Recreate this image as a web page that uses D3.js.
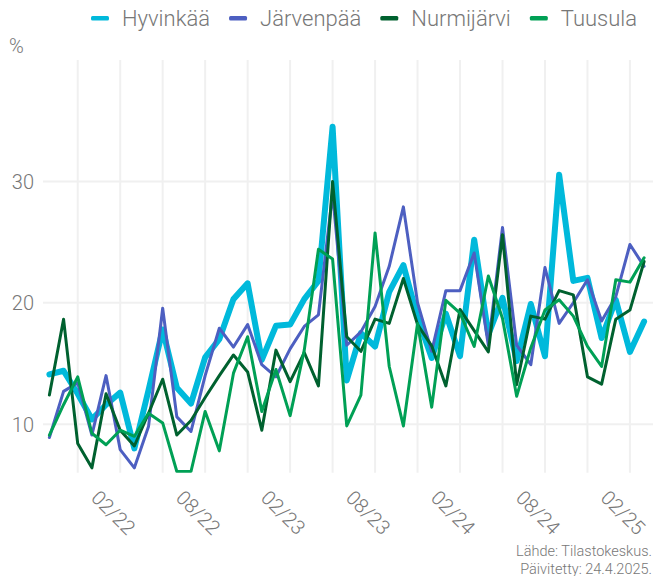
<!DOCTYPE html>
<html>
<head>
<meta charset="utf-8">
<script src="https://cdn.jsdelivr.net/npm/d3@7"></script>
<style>
  html, body { margin: 0; padding: 0; background: #fff; }
  svg { display: block; font-family: Roboto, "Open Sans", sans-serif; }
</style>
</head>
<body>
<svg id="chart" width="653" height="576"></svg>
<script>
// ---- data ----
const categories = (() => {
  const out = [];
  let y = 2021, m = 11;
  for (let i = 0; i < 43; i++) {
    out.push(String(m).padStart(2, "0") + "/" + String(y).slice(2));
    m++; if (m > 12) { m = 1; y++; }
  }
  return out;
})();
const seriesNames = ["Hyvinkää", "Järvenpää", "Nurmijärvi", "Tuusula"];
const hyvinkaa = [14.1,14.4,12.5,10.4,11.6,12.6,8.0,12.8,17.8,13.0,11.7,15.5,17.0,20.3,21.6,15.3,18.1,18.2,20.3,21.8,34.5,13.6,17.5,16.4,20.9,23.1,18.8,15.45,19.1,15.6,25.2,17.4,20.4,15.2,19.9,15.6,30.55,21.8,22.05,17.1,20.25,15.95,18.45];
const jarvenpaa = [8.9,12.7,13.4,9.1,14.0,7.9,6.4,9.8,19.55,10.6,9.4,14.0,17.9,16.35,18.2,14.9,13.9,16.2,18.05,19.0,29.0,16.5,17.6,19.7,23.0,27.9,20.0,16.0,21.0,21.0,24.1,16.5,26.2,16.5,14.9,22.9,18.3,20.0,21.9,18.5,20.5,24.8,23.0];
const nurmijarvi = [12.4,18.65,8.4,6.4,12.5,9.5,8.2,10.9,13.7,9.1,10.3,12.2,14.0,15.7,14.3,9.5,16.1,13.5,15.9,13.15,30.0,17.2,16.0,18.65,18.3,22.0,18.2,16.45,13.15,19.45,17.7,15.95,25.6,13.25,18.9,18.65,21.0,20.65,13.9,13.3,18.65,19.4,23.4];
const tuusula = [9.1,11.6,13.9,9.25,8.3,9.5,9.0,10.9,10.1,6.1,6.1,11.05,7.8,14.2,17.2,11.05,14.5,10.7,16.1,24.4,23.6,9.85,12.4,25.75,14.75,9.85,18.3,11.4,20.2,19.15,16.4,22.2,18.7,12.3,16.3,19.4,20.25,18.9,16.4,14.75,21.9,21.7,23.7];
const yTicks = [10, 20, 30];
const xTickLabels = ["02/22", "08/22", "02/23", "08/23", "02/24", "08/24", "02/25"];
const gridMonths = ["01", "04", "07", "10"];
const colors = ["#00b9db", "#4d5fc1", "#00612f", "#00a055"];
const widths = [6, 3, 3, 3];
const allSeries = [hyvinkaa, jarvenpaa, nurmijarvi, tuusula];

// ---- layout ----
const plot = { left: 43, right: 653, top: 60, bottom: 472.7 };
const svg = d3.select("#chart");
const textColor = "#777777";

const x = d3.scalePoint().domain(categories).range([49.4, 644.1]);
const y = d3.scaleLinear().domain([6, 40]).range([plot.bottom, plot.top]);

// gridlines
const grid = svg.append("g");
grid.selectAll("line.h").data(yTicks).join("line")
  .attr("x1", plot.left).attr("x2", plot.right)
  .attr("y1", d => y(d)).attr("y2", d => y(d))
  .attr("stroke", "#f0f0f0").attr("stroke-width", 2);
grid.selectAll("line.v").data(categories.filter(c => gridMonths.includes(c.slice(0, 2)))).join("line")
  .attr("x1", d => x(d)).attr("x2", d => x(d))
  .attr("y1", plot.top).attr("y2", plot.bottom)
  .attr("stroke", "#f0f0f0").attr("stroke-width", 2);

// y axis labels
const yAxis = d3.axisLeft(y).tickValues(yTicks).tickSize(0).tickPadding(0);
const yg = svg.append("g").attr("transform", "translate(34,0)").call(yAxis);
yg.select(".domain").remove();
yg.selectAll("text").attr("fill", textColor).attr("font-size", 20).attr("font-weight", 300)
  .attr("font-family", "Roboto, sans-serif").attr("dy", "0.35em");

// x axis labels
const xAxis = d3.axisBottom(x).tickValues(xTickLabels).tickSize(0).tickPadding(0);
const xg = svg.append("g").call(xAxis);
xg.select(".domain").remove();
xg.selectAll(".tick").attr("transform", d => `translate(${x(d) - 2},499)`);
xg.selectAll("text").attr("fill", textColor).attr("font-size", 20).attr("font-weight", 300)
  .attr("font-family", "Roboto, sans-serif")
  .attr("y", 0).attr("dy", 0).attr("text-anchor", "start")
  .attr("transform", "rotate(45)");

// clip
svg.append("clipPath").attr("id", "clip").append("rect")
  .attr("x", plot.left).attr("y", plot.top - 10)
  .attr("width", plot.right - plot.left).attr("height", plot.bottom - plot.top + 10);

const line = d3.line().x((d, i) => x(categories[i])).y(d => y(d));
const lines = svg.append("g").attr("clip-path", "url(#clip)");
allSeries.forEach((s, k) => {
  lines.append("path").datum(s)
    .attr("d", line)
    .attr("fill", "none")
    .attr("stroke", colors[k])
    .attr("stroke-width", widths[k])
    .attr("stroke-linejoin", "round")
    .attr("stroke-linecap", "round");
});

// "%" unit label
svg.append("text").attr("x", 9).attr("y", 53).text("%")
  .attr("fill", textColor).attr("font-size", 20).attr("font-weight", 300);

// legend
const legend = svg.append("g");
let lx = 91;
seriesNames.forEach((name, k) => {
  legend.append("rect").attr("x", lx).attr("y", 16).attr("width", 18).attr("height", 4.5)
    .attr("rx", 1.5).attr("fill", colors[k]);
  const t = legend.append("text").attr("x", lx + 31).attr("y", 26).text(name)
    .attr("fill", textColor).attr("font-size", 22).attr("font-weight", 300);
  lx += 31 + t.node().getComputedTextLength() + 19;
});

// footer
const foot = svg.append("g").attr("fill", textColor).attr("font-size", 14.5).attr("font-weight", 300)
  .attr("text-anchor", "end");
foot.append("text").attr("x", 652).attr("y", 555.5).text("Lähde: Tilastokeskus.");
foot.append("text").attr("x", 652).attr("y", 573.5).text("Päivitetty: 24.4.2025.");
</script>
</body>
</html>
